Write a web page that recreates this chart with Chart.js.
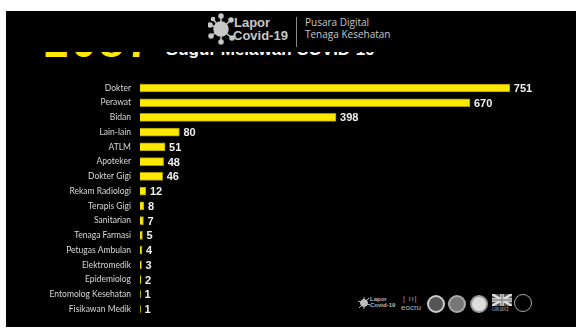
<!DOCTYPE html>
<html>
<head>
<meta charset="utf-8">
<script src="https://cdn.jsdelivr.net/npm/chart.js@4/dist/chart.umd.min.js"></script>
<style>
  html,body{margin:0;padding:0;background:#fff;width:576px;height:331px;overflow:hidden;}
  #panel{position:absolute;left:6px;top:11px;width:570px;height:316px;background:#000;}
  #wrap{position:absolute;left:0;top:0;width:576px;height:331px;}
  .t{position:absolute;font-family:"Liberation Sans",Arial,sans-serif;white-space:nowrap;}
  .clip{position:absolute;overflow:hidden;}
  .logo{position:absolute;border-radius:50%;}
</style>
</head>
<body>
<div id="panel"></div>

<!-- header logo -->
<svg style="position:absolute;left:208px;top:13px" width="28" height="32" viewBox="0 0 28 32">
  <g fill="#c8c8c8" stroke="#c8c8c8" stroke-width="1.5">
    <circle cx="13" cy="16" r="7"/>
    <line x1="13" y1="16" x2="13" y2="3"/><circle cx="13" cy="3" r="2"/>
    <line x1="13" y1="16" x2="13" y2="29"/><circle cx="13" cy="29" r="2"/>
    <line x1="13" y1="16" x2="2" y2="12"/><circle cx="2" cy="12" r="2"/>
    <line x1="13" y1="16" x2="3" y2="23"/><circle cx="3" cy="23" r="2"/>
    <line x1="13" y1="16" x2="23" y2="7"/><circle cx="23" cy="7" r="2"/>
    <line x1="13" y1="16" x2="24" y2="25"/><circle cx="24" cy="25" r="2"/>
    <line x1="13" y1="16" x2="5" y2="6"/><circle cx="5" cy="6" r="1.5"/>
  </g>
</svg>
<div class="t" style="left:234px;top:16px;font-size:13px;font-weight:bold;color:#c8c8c8;line-height:13px;">Lapor</div>
<div class="t" style="left:233px;top:29px;font-size:13px;font-weight:bold;color:#c8c8c8;line-height:13px;">Covid-19</div>
<div style="position:absolute;left:296px;top:17px;width:1px;height:30px;background:#888;"></div>
<div class="t" style="left:305px;top:16px;font-size:10px;color:#c8c8c8;font-family:'Open Sans',sans-serif;line-height:12px;">Pusara Digital</div>
<div class="t" style="left:305px;top:28px;font-size:10px;color:#c8c8c8;font-family:'Open Sans',sans-serif;line-height:12px;">Tenaga Kesehatan</div>

<!-- clipped title -->
<div class="clip" style="left:40px;top:52px;width:360px;height:8px;">
  <div class="t" style="left:4px;top:-32px;font-size:44px;font-weight:bold;color:#ffe800;line-height:44px;letter-spacing:3px;">2087</div>
  <div class="t" style="left:125px;top:-11px;font-size:17px;font-weight:bold;color:#fff;line-height:17px;">Gugur Melawan COVID-19</div>
</div>

<!-- footer logos -->
<svg style="position:absolute;left:357px;top:296px" width="14" height="14" viewBox="0 0 14 14">
  <g fill="#bbb" stroke="#bbb" stroke-width="1"><circle cx="7" cy="7" r="3.5"/>
  <line x1="7" y1="7" x2="7" y2="1"/><line x1="7" y1="7" x2="7" y2="13"/><line x1="7" y1="7" x2="1" y2="5"/><line x1="7" y1="7" x2="13" y2="9"/><line x1="7" y1="7" x2="12" y2="2"/><line x1="7" y1="7" x2="2" y2="12"/></g>
</svg>
<div class="t" style="left:370px;top:296px;font-size:6px;font-weight:bold;color:#bbb;line-height:6px;">Lapor<br>Covid-19</div>
<div class="t" style="left:403px;top:295px;font-size:7px;color:#bbb;letter-spacing:1px;">| ıı|</div>
<div class="t" style="left:401px;top:303px;font-size:8px;color:#bbb;">eocru</div>
<div class="logo" style="left:427px;top:295px;width:14px;height:14px;background:#555;border:2px solid #ccc;"></div>
<div class="logo" style="left:448px;top:295px;width:14px;height:14px;background:#777;border:2px solid #aaa;"></div>
<div class="logo" style="left:470px;top:295px;width:14px;height:14px;background:#ddd;border:2px solid #999;"></div>
<svg style="position:absolute;left:492px;top:294px" width="20" height="12" viewBox="0 0 20 12">
  <rect width="20" height="12" fill="#555"/>
  <path d="M0 0 L20 12 M20 0 L0 12" stroke="#ddd" stroke-width="2.5"/>
  <path d="M10 0 V12 M0 6 H20" stroke="#ddd" stroke-width="3.5"/>
  <path d="M10 0 V12 M0 6 H20" stroke="#888" stroke-width="1.5"/>
</svg>
<div class="t" style="left:492px;top:305px;font-size:7px;color:#999;">ukaid</div>
<div class="logo" style="left:514px;top:294px;width:16px;height:16px;border:1.5px solid #aaa;"></div>

<div id="wrap"><canvas id="c" width="576" height="331"></canvas></div>

<script>
const categories = ["Dokter","Perawat","Bidan","Lain-lain","ATLM","Apoteker","Dokter Gigi","Rekam Radiologi","Terapis Gigi","Sanitarian","Tenaga Farmasi","Petugas Ambulan","Elektromedik","Epidemiolog","Entomolog Kesehatan","Fisikawan Medik"];
const values = [751,670,398,80,51,48,46,12,8,7,5,4,3,2,1,1];

const valueLabels = {
  id:'valueLabels',
  afterDatasetsDraw(chart){
    const ctx = chart.ctx;
    const meta = chart.getDatasetMeta(0);
    ctx.save();
    ctx.font = 'bold 11px "Liberation Sans", Arial, sans-serif';
    ctx.fillStyle = '#f0f0f0';
    ctx.textAlign = 'left';
    ctx.textBaseline = 'middle';
    meta.data.forEach((bar,i)=>{
      ctx.fillText(String(values[i]), bar.x + 4, bar.y + 1);
    });
    ctx.restore();
  }
};

new Chart(document.getElementById('c'), {
  type:'bar',
  data:{
    labels:categories,
    datasets:[{
      data:values,
      backgroundColor:'#ffe800',
      borderColor:'#a89800',
      borderWidth:1,
      barThickness:8
    }]
  },
  options:{
    indexAxis:'y',
    responsive:false,
    animation:false,
    events:[],
    layout:{padding:{top:80.6,bottom:14.6,left:0,right:42}},
    plugins:{legend:{display:false},tooltip:{enabled:false},title:{display:false}},
    scales:{
      x:{display:false,min:0,max:800},
      y:{
        grid:{display:false,drawTicks:false},
        border:{display:false},
        ticks:{color:'#d8d8d8',padding:9,font:{family:'Lato, "Open Sans", sans-serif',size:8.5}},
        afterFit(s){ s.width = 140; }
      }
    }
  },
  plugins:[valueLabels]
});
</script>
</body>
</html>
